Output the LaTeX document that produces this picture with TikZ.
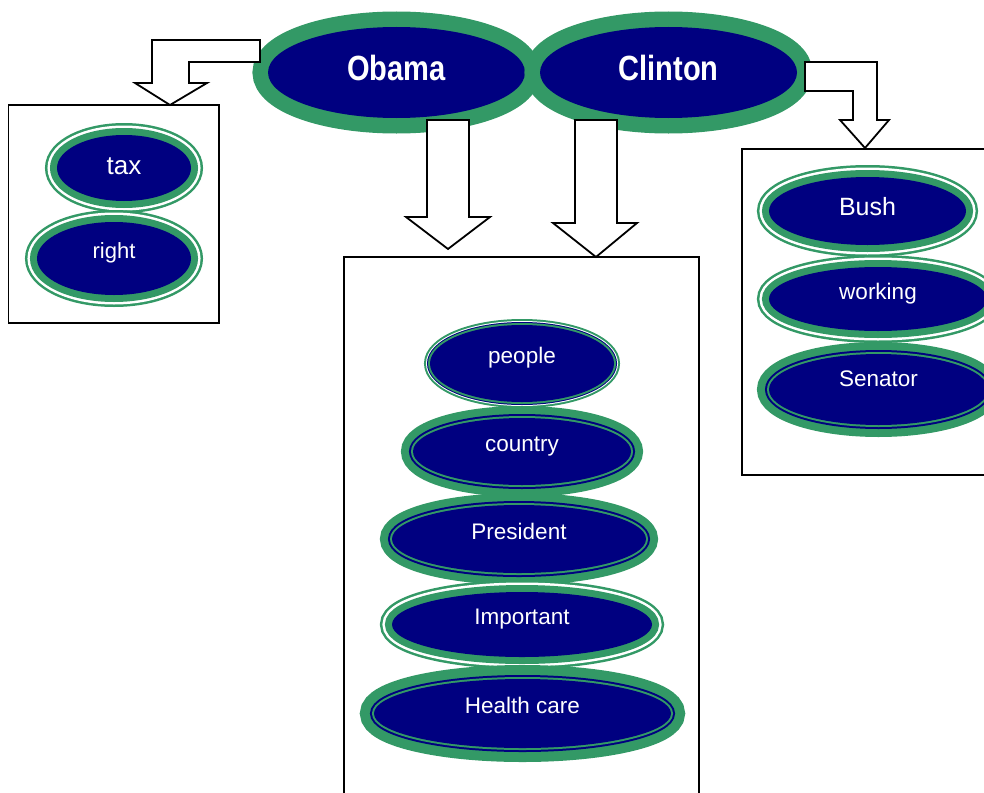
\documentclass[tikz,border=0pt]{standalone}
\usepackage{fontspec}
\setmainfont{Liberation Sans}
\newfontfamily\headfont[FakeStretch=0.83]{Liberation Sans}
\usepackage{tikz}
\usetikzlibrary{shapes.geometric}
\definecolor{ovalnavy}{RGB}{0,0,128}
\definecolor{ovalgreen}{RGB}{51,153,102}
\tikzset{
  oval/.style={
    ellipse,
    inner sep=0pt,
    outer sep=0pt,
    text=white,
    text height=0pt,
    text depth=0pt,
    font=\fontsize{22.5}{27}\selectfont
  },
  oval size/.style 2 args={minimum width=#1, minimum height=#2},
  name oval/.style={
    oval,
    draw=ovalgreen, line width=31pt,
    postaction={fill=ovalnavy},
    font=\headfont\bfseries\fontsize{35}{40}\selectfont,
    text height=15pt
  },
  ring a/.style={
    oval,
    draw=ovalgreen, line width=24pt,
    postaction={draw=white, line width=19pt},
    postaction={draw=ovalgreen, line width=14pt},
    postaction={fill=ovalnavy}
  },
  ring b/.style={
    oval,
    draw=ovalgreen, line width=12pt,
    postaction={draw=white, line width=8pt},
    postaction={draw=ovalnavy, line width=6pt},
    postaction={draw=ovalgreen, line width=4pt},
    postaction={fill=ovalnavy}
  },
  ring c/.style={
    oval,
    draw=ovalgreen, line width=#1,
    postaction={draw=ovalnavy, line width=8pt},
    postaction={draw=ovalgreen, line width=4pt},
    postaction={fill=ovalnavy}
  },
  ring c/.default=24pt,
  topic box/.style={draw=black, line width=1.5pt},
  block arrow/.style={draw=black, fill=white, line width=1.8pt, line join=miter}
}

\begin{document}
\begin{tikzpicture}[x=1pt, y=-1pt]
  \useasboundingbox (0,0) rectangle (984,792);

  % Topic boxes
  \draw[topic box] (8.5,105) rectangle (219,323);
  \draw[topic box] (344,257) rectangle (699,800);
  \draw[topic box] (742,149) rectangle (1000,475);

  % Left topic
  \node[ring a, oval size={134pt}{66pt}, font=\fontsize{26}{30}\selectfont, text height=12pt] (term tax) at (124,168) {tax};
  \node[ring a, oval size={154pt}{73pt}, font=\fontsize{22}{26}\selectfont] (term right) at (114,258.5) {right};

  % Middle topic
  \node[ring b, oval size={184pt}{77pt}] (term people) at (522,363.5) {people};
  \node[ring c, oval size={218pt}{67pt}] (term country) at (522,451.5) {country};
  \node[ring c, oval size={254pt}{68pt}] (term president) at (519,539) {President};
  \node[ring a, oval size={260pt}{65pt}] (term important) at (522,624.5) {Important};
  \node[ring c=28pt, oval size={297pt}{69pt}] (term health) at (522.5,713.5) {Health care};

  % Right topic
  \node[ring a, oval size={197pt}{68pt}, font=\fontsize{25}{30}\selectfont, text height=8pt] (term bush) at (867.5,211) {Bush};
  \node[ring a, oval size={218pt}{64pt}] (term working) at (878,299) {working};
  \node[ring c, oval size={219pt}{71pt}, text depth=7pt] (term senator) at (878.5,389.5) {Senator};

  % Candidates
  \node[name oval, oval size={257pt}{91pt}] (obama) at (396.5,72.5) {Obama};
  \node[name oval, oval size={257pt}{91pt}] (clinton) at (668.5,72.5) {Clinton};

  % Elbow arrow to the left topic
  \draw[block arrow] (260,40) -- (152,40) -- (152,83) -- (135,83) -- (170,105)
    -- (207,83) -- (189,83) -- (189,62) -- (260,62) -- cycle;

  % Arrows to the middle topic
  \draw[block arrow] (427,120) -- (469,120) -- (469,217) -- (490,217) -- (448,249)
    -- (406,217) -- (427,217) -- cycle;
  \draw[block arrow] (575,120) -- (617,120) -- (617,223) -- (637,223) -- (596,257)
    -- (553,223) -- (575,223) -- cycle;

  % Elbow arrow to the right topic
  \draw[block arrow] (805,62) -- (877,62) -- (877,120) -- (889,120) -- (865,148)
    -- (840,120) -- (853,120) -- (853,91) -- (805,91) -- cycle;

\end{tikzpicture}
\end{document}
